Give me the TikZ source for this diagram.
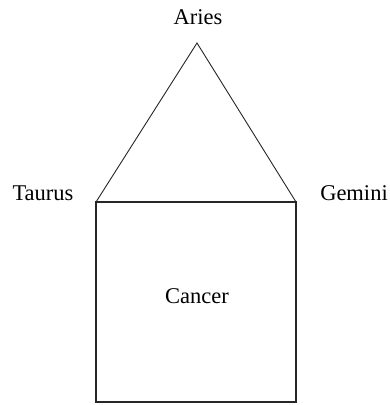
\documentclass[tikz,border=0pt]{standalone}
\usepackage{fontspec}
\setmainfont{Liberation Serif}
\usetikzlibrary{positioning}
\tikzset{
  sign/.style={font=\fontsize{22.5}{27}\selectfont, anchor=base, inner sep=0pt},
  roof/.style={line width=0.9pt, black!85},
  walls/.style={line width=1.8pt, black!85}
}
\begin{document}
\begin{tikzpicture}[x=1pt,y=-1pt]
\useasboundingbox (0,0) rectangle (390,405);
% corners of the house
\coordinate (apex) at (197,43);
\coordinate (tl) at (96,202);
\coordinate (tr) at (296,202);
\coordinate (bl) at (96,402);
\coordinate (br) at (296,402);
% roof and walls
\draw[roof] (tl) -- (apex) -- (tr);
\draw[walls] (tl) -- (tr) -- (br) -- (bl) -- cycle;
% labels
\node[sign] (aries) at (198,24) {Aries};
\node[sign] (taurus) at (43,200) {Taurus};
\node[sign] (gemini) at (354,200) {Gemini};
\node[sign] (cancer) at (197,303) {Cancer};
\end{tikzpicture}
\end{document}
